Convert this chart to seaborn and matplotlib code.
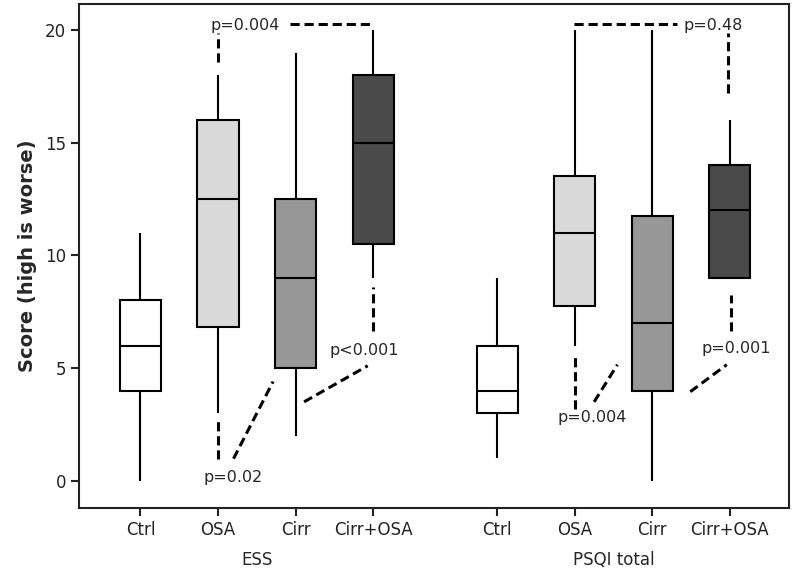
import pandas as pd
import matplotlib
matplotlib.use('Agg')
import matplotlib.pyplot as plt
import matplotlib.transforms as mtransforms
import seaborn as sns

# Groups and categories
groups = ['ESS', 'PSQI total']
categories = ['Ctrl', 'OSA', 'Cirr', 'Cirr+OSA']

# Five-number summaries: min, q1, median, q3, max
ess_ctrl = [0, 4, 6, 8, 11]
ess_osa = [3, 6.8, 12.5, 16, 18]
ess_cirr = [2, 5, 9, 12.5, 19]
ess_cirr_osa = [9, 10.5, 15, 18, 20]

psqi_ctrl = [1, 3, 4, 6, 9]
psqi_osa = [6, 7.75, 11, 13.5, 20]
psqi_cirr = [0, 4, 7, 11.75, 20]
psqi_cirr_osa = [9, 9, 12, 14, 16]

p_labels = ['p=0.004', 'p=0.02', 'p<0.001', 'p=0.48', 'p=0.004', 'p=0.001']

box_colors = ['#ffffff', '#d9d9d9', '#979797', '#4a4a4a']

if __name__ == '__main__':

    # x positions: two blocks of four boxes with a gap between them
    ess_pos = [0, 1, 2, 3]
    psqi_pos = [4.6, 5.6, 6.6, 7.6]

    rows = []
    all_data = [ess_ctrl, ess_osa, ess_cirr, ess_cirr_osa,
                psqi_ctrl, psqi_osa, psqi_cirr, psqi_cirr_osa]
    all_pos = ess_pos + psqi_pos
    for i, (vals, pos) in enumerate(zip(all_data, all_pos)):
        for v in vals:
            rows.append({'pos': pos, 'score': v, 'cat': categories[i % 4]})
    data = pd.DataFrame(rows)

    sns.set_style('white')
    plt.rcParams['font.family'] = ['DejaVu Sans']

    fig = plt.figure(figsize=(8, 5.79), dpi=100)
    ax = fig.add_axes([0.099, 0.123, 0.887, 0.870])

    sns.boxplot(data=data, x='pos', y='score', hue='cat', hue_order=categories,
                palette=box_colors, native_scale=True, dodge=False, whis=(0, 100),
                width=0.53, linecolor='black', linewidth=1.5, legend=False,
                saturation=1, showcaps=False, ax=ax)

    ax.set_xlim(-0.79, 8.36)
    ax.set_ylim(-1.2, 21.15)
    ax.set_yticks([0, 5, 10, 15, 20])
    ax.set_xticks(all_pos)
    ax.set_xticklabels(categories * 2)
    ax.tick_params(axis='both', direction='out', length=6, width=1.5,
                   labelsize=12, colors='#222222', bottom=True, left=True)
    ax.set_xlabel('')
    ax.set_ylabel('Score (high is worse)', fontsize=14, fontweight='bold', labelpad=6)
    for sp in ax.spines.values():
        sp.set_linewidth(1.5)
        sp.set_color('#222222')

    # Group labels under the tick labels
    trans = mtransforms.blended_transform_factory(ax.transData, ax.transAxes)
    ax.text(1.5, -0.103, groups[0], transform=trans, ha='center', va='center', fontsize=12)
    ax.text(6.1, -0.103, groups[1], transform=trans, ha='center', va='center', fontsize=12)

    # Significance annotations
    dash = dict(color='black', linewidth=2.2, linestyle=(0, (3, 1.6)))
    # ESS OSA vs Cirr+OSA
    ax.plot([1, 1], [18.6, 19.85], **dash)
    ax.plot([1.93, 2.99], [20.27, 20.27], **dash)
    ax.text(1.35, 20.2, p_labels[0], ha='center', va='center', fontsize=11.5)
    # ESS OSA / Cirr lower
    ax.plot([1, 1], [0.95, 2.7], **dash)
    ax.plot([1.2, 1.71], [0.98, 4.4], **dash)
    ax.text(1.2, 0.13, p_labels[1], ha='center', va='center', fontsize=11.5)
    # ESS Cirr vs Cirr+OSA
    ax.plot([3, 3], [6.65, 8.6], **dash)
    ax.plot([2.11, 2.93], [3.5, 5.1], **dash)
    ax.text(2.89, 5.8, p_labels[2], ha='center', va='center', fontsize=11.5)
    # PSQI OSA vs Cirr+OSA
    ax.plot([5.59, 6.92], [20.27, 20.27], **dash)
    ax.plot([7.57, 7.57], [17.2, 19.85], **dash)
    ax.text(7.38, 20.2, p_labels[3], ha='center', va='center', fontsize=11.5)
    # PSQI OSA / Cirr lower
    ax.plot([5.6, 5.6], [3.2, 5.6], **dash)
    ax.plot([5.85, 6.15], [3.5, 5.15], **dash)
    ax.text(5.83, 2.8, p_labels[4], ha='center', va='center', fontsize=11.5)
    # PSQI Cirr vs Cirr+OSA
    ax.plot([7.62, 7.62], [6.65, 8.25], **dash)
    ax.plot([7.09, 7.56], [3.95, 5.15], **dash)
    ax.text(7.68, 5.85, p_labels[5], ha='center', va='center', fontsize=11.5)

    fig.savefig('out.png', dpi=100)
